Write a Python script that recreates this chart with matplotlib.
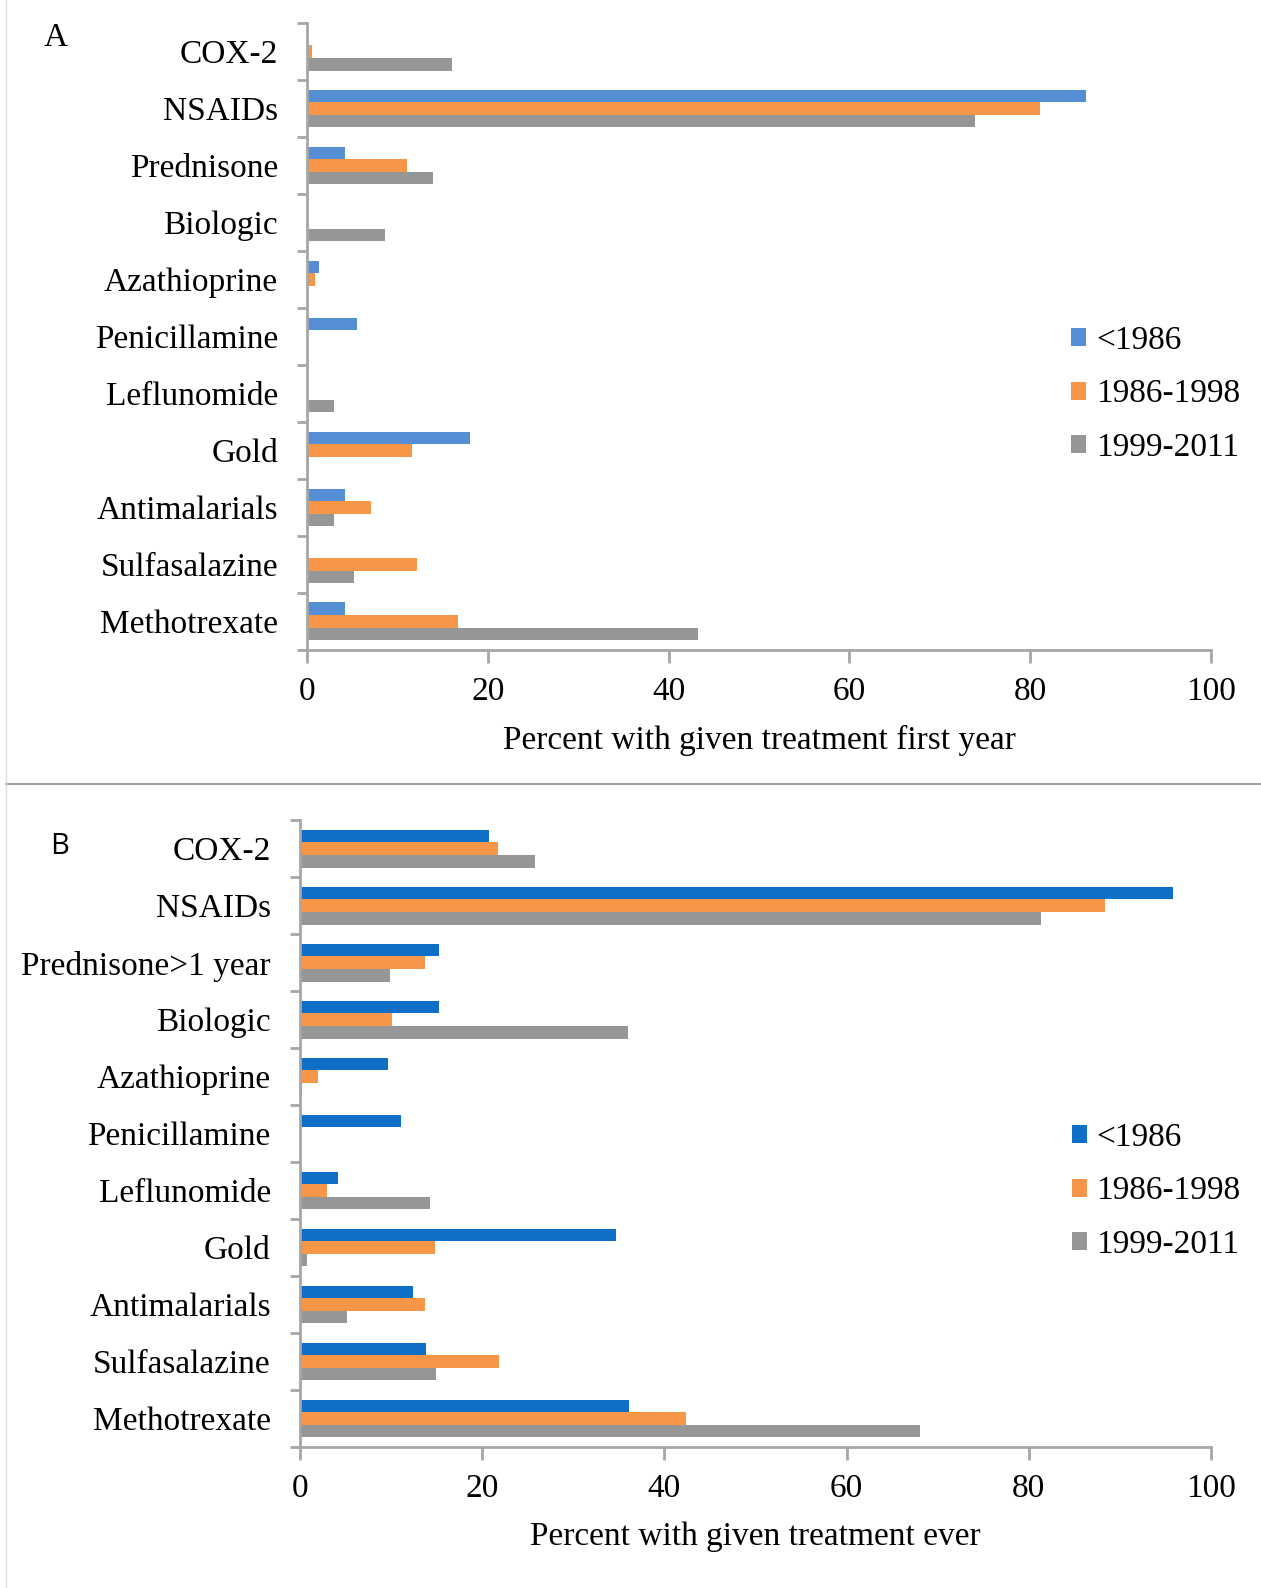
import numpy as np
import matplotlib.pyplot as plt
from matplotlib.patches import Patch
from matplotlib.lines import Line2D

# ----------------------------------------
# DATA
# ----------------------------------------

drugs_a = ["COX-2", "NSAIDs", "Prednisone", "Biologic", "Azathioprine",
           "Penicillamine", "Leflunomide", "Gold", "Antimalarials",
           "Sulfasalazine", "Methotrexate"]
drugs_b = ["COX-2", "NSAIDs", "Prednisone>1 year", "Biologic", "Azathioprine",
           "Penicillamine", "Leflunomide", "Gold", "Antimalarials",
           "Sulfasalazine", "Methotrexate"]

periods = ["<1986", "1986-1998", "1999-2011"]

# panel A: first year
first_pre86 = [0, 86.2, 4.2, 0, 1.3, 5.5, 0, 18.0, 4.2, 0, 4.2]
first_86_98 = [0.5, 81.1, 11.1, 0, 0.9, 0, 0, 11.6, 7.1, 12.2, 16.7]
first_99_11 = [16.0, 73.9, 13.9, 8.6, 0, 0, 3.0, 0.2, 3.0, 5.2, 43.3]

# panel B: ever
ever_pre86 = [20.7, 95.8, 15.3, 15.3, 9.7, 11.1, 4.2, 34.7, 12.4, 13.8, 36.1]
ever_86_98 = [21.7, 88.4, 13.7, 10.1, 2.0, 0, 3.0, 14.8, 13.7, 21.8, 42.4]
ever_99_11 = [25.8, 81.3, 9.9, 36.0, 0.2, 0, 14.3, 0.8, 5.2, 14.9, 68.1]

ORANGE = "#F79646"
GRAY = "#969696"
SPINE = "#A6A6A6"
SERIF = "Liberation Serif"
FS = 24


# ----------------------------------------
# ONE PANEL
# ----------------------------------------

def draw_panel(ax, labels, series, colors, xlabel, legend_x):

    n = len(labels)
    y = np.arange(n)
    h = 0.222

    for i, (vals, col) in enumerate(zip(series, colors)):
        ax.barh(
            y + (i - 1) * h,
            vals,
            height=h,
            color=col,
            edgecolor="none"
        )

    ax.set_ylim(n - 0.5, -0.5)
    ax.set_xlim(0, 100)

    ax.set_yticks(y)
    ax.set_yticklabels(labels, fontfamily=SERIF, fontsize=FS)
    ax.set_yticks(np.arange(n + 1) - 0.5, minor=True)
    ax.tick_params(axis="y", which="major", length=0, pad=21)
    ax.tick_params(axis="y", which="minor", length=7, width=2, color=SPINE)

    ax.set_xticks([0, 20, 40, 60, 80, 100])
    ax.set_xticklabels(["0", "20", "40", "60", "80", "100"],
                       fontfamily=SERIF, fontsize=FS)
    ax.tick_params(axis="x", length=9, width=2, color=SPINE, pad=10)

    ax.set_xlabel(xlabel, fontfamily=SERIF, fontsize=FS, labelpad=13)

    for s in ["top", "right"]:
        ax.spines[s].set_visible(False)
    for s in ["left", "bottom"]:
        ax.spines[s].set_color(SPINE)
        ax.spines[s].set_linewidth(2)

    handles = [Patch(facecolor=c, edgecolor="none") for c in colors]
    ax.legend(
        handles,
        periods,
        loc="center left",
        bbox_to_anchor=(legend_x, 0.408),
        frameon=False,
        prop={"family": SERIF, "size": FS},
        handlelength=0.45,
        handleheight=0.45,
        handletextpad=0.3,
        labelspacing=0.68
    )


# ----------------------------------------
# FIGURE
# ----------------------------------------

fig = plt.figure(figsize=(12.61, 15.88), dpi=100)

ax_a = fig.add_axes([0.2435, 0.5907, 0.7168, 0.3948])
draw_panel(
    ax_a, drugs_a,
    [first_pre86, first_86_98, first_99_11],
    ["#558ED5", ORANGE, GRAY],
    "Percent with given treatment first year",
    0.812
)

ax_b = fig.add_axes([0.2379, 0.0888, 0.7224, 0.3948])
draw_panel(
    ax_b, drugs_b,
    [ever_pre86, ever_86_98, ever_99_11],
    ["#0F6FC6", ORANGE, GRAY],
    "Percent with given treatment ever",
    0.814
)

fig.text(56 / 1261, 1 - 38 / 1588, "A", fontfamily=SERIF, fontsize=24,
         ha="center", va="center")
fig.text(60 / 1261, 1 - 847 / 1588, "B", fontfamily="Open Sans", fontsize=21,
         ha="center", va="center")

# panel frame lines
fig.add_artist(Line2D([6 / 1261, 1], [1 - 784 / 1588, 1 - 784 / 1588],
                      color="#A0A0A0", linewidth=1.5))
fig.add_artist(Line2D([6 / 1261, 6 / 1261], [0, 1],
                      color="#E0E0E0", linewidth=1))

fig.savefig("out.png", dpi=100)
